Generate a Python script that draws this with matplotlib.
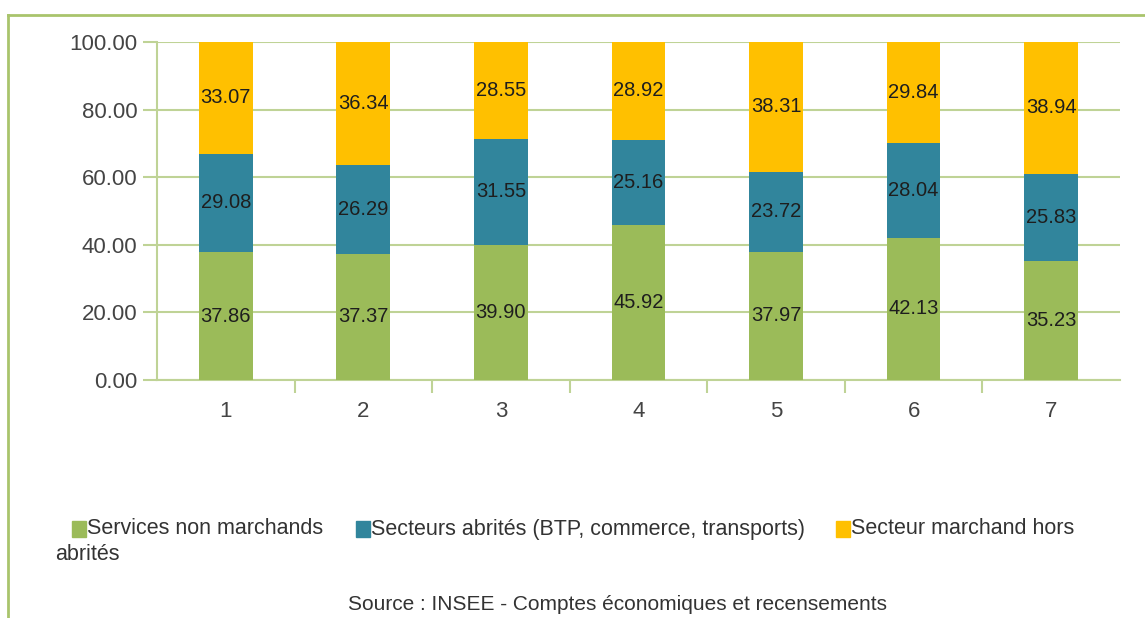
import matplotlib
matplotlib.use("Agg")
import matplotlib.pyplot as plt
from matplotlib.patches import Rectangle
from matplotlib.lines import Line2D
import numpy as np

plt.rcParams['font.family'] = ['Liberation Sans', 'DejaVu Sans']

categories = ["1", "2", "3", "4", "5", "6", "7"]
services_non_marchands = [37.86, 37.37, 39.90, 45.92, 37.97, 42.13, 35.23]
secteurs_abrites = [29.08, 26.29, 31.55, 25.16, 23.72, 28.04, 25.83]
secteur_marchand = [33.07, 36.34, 28.55, 28.92, 38.31, 29.84, 38.94]
series_names = ["Services non marchands",
                "Secteurs abrités (BTP, commerce, transports)",
                "Secteur marchand hors"]
yticks = [0, 20, 40, 60, 80, 100]

colors = ["#9BBB59", "#31859C", "#FFC000"]
grid_color = "#BFD396"

fig = plt.figure(figsize=(11.45, 6.18), dpi=100)
ax = fig.add_axes([0.1371, 0.385, 0.841, 0.547])

x = np.arange(1, len(categories) + 1)
bottom = np.zeros(len(categories))
for vals, col in zip([services_non_marchands, secteurs_abrites, secteur_marchand], colors):
    vals = np.array(vals)
    ax.bar(x, vals, width=0.39, bottom=bottom, color=col, zorder=3)
    for xi, b, v in zip(x, bottom, vals):
        ax.text(xi, b + v / 2, f"{v:.2f}", ha="center", va="center",
                fontsize=14.5, color="#1e1e1e", zorder=4)
    bottom += vals

ax.set_xlim(0.5, 7.5)
ax.set_ylim(0, 100)
ax.set_yticks(yticks)
ax.set_yticklabels([f"{v:.2f}" for v in yticks], fontsize=16, color="#444444")
ax.set_xticks(x)
ax.set_xticklabels(categories, fontsize=16, color="#444444")
ax.tick_params(axis="x", length=0, pad=15)
ax.set_xticks(np.arange(1.5, 7.5, 1.0), minor=True)
ax.tick_params(axis="x", which="minor", length=9, width=1.5, color=grid_color, direction="out")
ax.tick_params(axis="y", length=10, width=1.5, color=grid_color, pad=4)
ax.yaxis.grid(True, color=grid_color, linewidth=1.5, zorder=0)
for s in ["top", "right"]:
    ax.spines[s].set_visible(False)
for s in ["left", "bottom"]:
    ax.spines[s].set_color(grid_color)
    ax.spines[s].set_linewidth(1.5)

# outer frame (green border)
fig.add_artist(Line2D([8/1145, 8/1145], [0, 1 - 15/618], color="#A9C46C", linewidth=2,
                      transform=fig.transFigure))
fig.add_artist(Line2D([8/1145, 1], [1 - 15/618, 1 - 15/618], color="#A9C46C", linewidth=2,
                      transform=fig.transFigure))

# legend
def fy(py):
    return 1 - py / 618

leg_y = 529
items = [(72, 87), (356, 371), (836, 851)]
for (sx, tx), name, col in zip(items, series_names, colors):
    fig.add_artist(Rectangle((sx / 1145, fy(leg_y + 8)), 14 / 1145, 16 / 618,
                             color=col, transform=fig.transFigure))
    fig.text(tx / 1145, fy(leg_y), name, fontsize=15.5, color="#333333",
             ha="left", va="center")
fig.text(55 / 1145, fy(554), "abrités", fontsize=15.5, color="#333333", ha="left", va="center")

fig.text(618 / 1145, fy(605), "Source : INSEE - Comptes économiques et recensements",
         fontsize=15, color="#333333", ha="center", va="center")

fig.savefig("out.png", dpi=100)
